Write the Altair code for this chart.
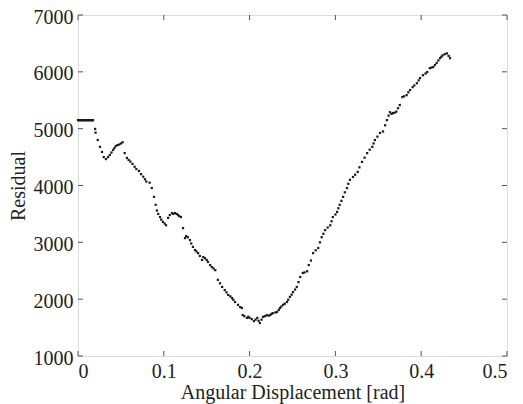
import altair as alt
import pandas as pd

# Flat start segment + scattered residual values
angle = [0.000, 0.001, 0.002, 0.003, 0.004, 0.005, 0.006, 0.007, 0.008, 0.009,
         0.010, 0.011, 0.012, 0.013, 0.014, 0.015, 0.016, 0.017, 0.0175,
         0.020, 0.0205, 0.023, 0.0256, 0.028, 0.030, 0.0326, 0.035, 0.037, 0.039,
         0.041, 0.0425, 0.044, 0.046, 0.048, 0.050, 0.052, 0.0544, 0.057, 0.059,
         0.061, 0.0635, 0.066, 0.068, 0.071, 0.0735, 0.076, 0.078, 0.0796, 0.0835,
         0.086, 0.0886, 0.0905, 0.092, 0.0935, 0.0956, 0.097, 0.099, 0.101, 0.1026,
         0.105, 0.107, 0.1096, 0.111, 0.113, 0.115, 0.1166, 0.118, 0.120, 0.1224,
         0.1247, 0.126, 0.128, 0.1305, 0.132, 0.134, 0.1364, 0.138, 0.140, 0.142,
         0.1445, 0.146, 0.148, 0.150, 0.1515, 0.154, 0.156, 0.158, 0.160, 0.163,
         0.1655, 0.168, 0.171, 0.173, 0.175, 0.1775, 0.1795, 0.181, 0.183, 0.1865,
         0.189, 0.191, 0.192, 0.194, 0.197, 0.1985, 0.200, 0.2025, 0.205, 0.207,
         0.209, 0.2105, 0.212, 0.214, 0.2156, 0.218, 0.220, 0.222, 0.224, 0.2255,
         0.227, 0.230, 0.232, 0.234, 0.2354, 0.237, 0.239, 0.241, 0.2436, 0.245,
         0.247, 0.249, 0.2506, 0.253, 0.255, 0.257, 0.259, 0.262, 0.264, 0.267,
         0.269, 0.2715, 0.274, 0.277, 0.280, 0.282, 0.284, 0.286, 0.288, 0.291,
         0.294, 0.2955, 0.297, 0.300, 0.302, 0.3035, 0.305, 0.307, 0.309, 0.311,
         0.3135, 0.315, 0.317, 0.3205, 0.323, 0.326, 0.328, 0.331, 0.334, 0.337,
         0.340, 0.343, 0.3445, 0.346, 0.349, 0.352, 0.3555, 0.358, 0.360, 0.362,
         0.3636, 0.3655, 0.367, 0.369, 0.371, 0.373, 0.375, 0.378, 0.380, 0.383,
         0.385, 0.387, 0.390, 0.392, 0.395, 0.397, 0.3986, 0.402, 0.405, 0.407,
         0.410, 0.412, 0.414, 0.416, 0.418, 0.420, 0.422, 0.4235, 0.425, 0.4275,
         0.430, 0.432, 0.4336]

residual = [5150, 5150, 5150, 5150, 5150, 5150, 5150, 5150, 5150, 5150,
            5150, 5150, 5150, 5150, 5150, 5150, 5150, 5150, 5150,
            4995, 4930, 4800, 4680, 4590, 4500, 4465, 4500, 4537, 4580,
            4625, 4660, 4695, 4710, 4720, 4740, 4760, 4570, 4485, 4450,
            4420, 4380, 4330, 4290, 4255, 4200, 4155, 4110, 4070, 4050,
            3955, 3800, 3660, 3560, 3500, 3445, 3400, 3360, 3330, 3300,
            3430, 3480, 3515, 3500, 3515, 3500, 3480, 3460, 3445, 3250,
            3075, 3110, 3090, 3040, 2980, 2920, 2865, 2840, 2810, 2760,
            2690, 2740, 2720, 2690, 2655, 2600, 2565, 2540, 2510, 2340,
            2280, 2215, 2160, 2120, 2075, 2050, 2020, 1990, 1950, 1900,
            1860, 1845, 1720, 1700, 1670, 1690, 1670, 1650, 1615, 1640,
            1670, 1620, 1580, 1640, 1690, 1700, 1720, 1710, 1720, 1740,
            1755, 1765, 1775, 1810, 1845, 1870, 1900, 1920, 1950, 1990,
            2040, 2080, 2125, 2170, 2215, 2300, 2390, 2460, 2470, 2490,
            2600, 2680, 2810, 2860, 2900, 3000, 3090, 3150, 3215, 3260,
            3300, 3370, 3445, 3490, 3535, 3600, 3660, 3730, 3800, 3880,
            3955, 4030, 4100, 4150, 4190, 4240, 4320, 4415, 4490, 4570,
            4630, 4680, 4740, 4800, 4860, 4925, 4950, 5060, 5150, 5230,
            5290, 5260, 5275, 5280, 5300, 5360, 5415, 5555, 5570, 5590,
            5640, 5680, 5730, 5760, 5800, 5850, 5890, 5940, 5970, 5995,
            6065, 6075, 6085, 6120, 6155, 6200, 6240, 6265, 6290, 6310,
            6325, 6280, 6240]

x_ticks = [0.0, 0.1, 0.2, 0.3, 0.4, 0.5]
y_ticks = [1000, 2000, 3000, 4000, 5000, 6000, 7000]

df = pd.DataFrame({"angle": angle, "residual": residual})
xt = pd.DataFrame({"t": x_ticks})
yt = pd.DataFrame({"t": y_ticks})

W, H = 429, 341
FONT = "Liberation Serif"
TXT = "#222222"
FS = 20

xscale = alt.Scale(domain=[0, 0.5], nice=False, zero=False)
yscale = alt.Scale(domain=[1000, 7000], nice=False, zero=False)

points = alt.Chart(df).mark_square(size=5, color="#1a1a1a", opacity=1).encode(
    x=alt.X("angle:Q", scale=xscale,
            axis=alt.Axis(values=x_ticks, format=".1~f", title="Angular Displacement [rad]",
                          grid=False, domain=False, ticks=False, labelPadding=5,
                          labelFontSize=FS, titleFontSize=FS, titlePadding=1,
                          labelFont=FONT, titleFont=FONT, labelColor=TXT, titleColor=TXT,
                          titleFontWeight="normal")),
    y=alt.Y("residual:Q", scale=yscale,
            axis=alt.Axis(values=y_ticks, format="d", title="Residual",
                          grid=False, domain=False, ticks=False, labelPadding=5,
                          labelOffset=2,
                          labelFontSize=FS, titleFontSize=FS, titlePadding=5,
                          labelFont=FONT, titleFont=FONT, labelColor=TXT, titleColor=TXT,
                          titleFontWeight="normal")),
)

tick_color = "#555555"
xb = alt.Chart(xt).mark_rule(color=tick_color, strokeWidth=1).encode(
    x=alt.X("t:Q", scale=xscale), y=alt.value(H), y2=alt.value(H - 5))
xtp = alt.Chart(xt).mark_rule(color=tick_color, strokeWidth=1).encode(
    x=alt.X("t:Q", scale=xscale), y=alt.value(0), y2=alt.value(5))
yl = alt.Chart(yt).mark_rule(color=tick_color, strokeWidth=1).encode(
    y=alt.Y("t:Q", scale=yscale), x=alt.value(0), x2=alt.value(5))
yr = alt.Chart(yt).mark_rule(color=tick_color, strokeWidth=1).encode(
    y=alt.Y("t:Q", scale=yscale), x=alt.value(W - 5), x2=alt.value(W))

chart = alt.layer(xb, xtp, yl, yr, points).properties(
    width=W, height=H,
    padding={"left": 78, "top": 15, "right": 16, "bottom": 48},
    autosize=alt.AutoSizeParams(type="none"),
).configure_view(stroke="#555555", strokeWidth=1).configure(background="white")

chart.save("out.html", embed_options={"renderer": "svg", "actions": False})
